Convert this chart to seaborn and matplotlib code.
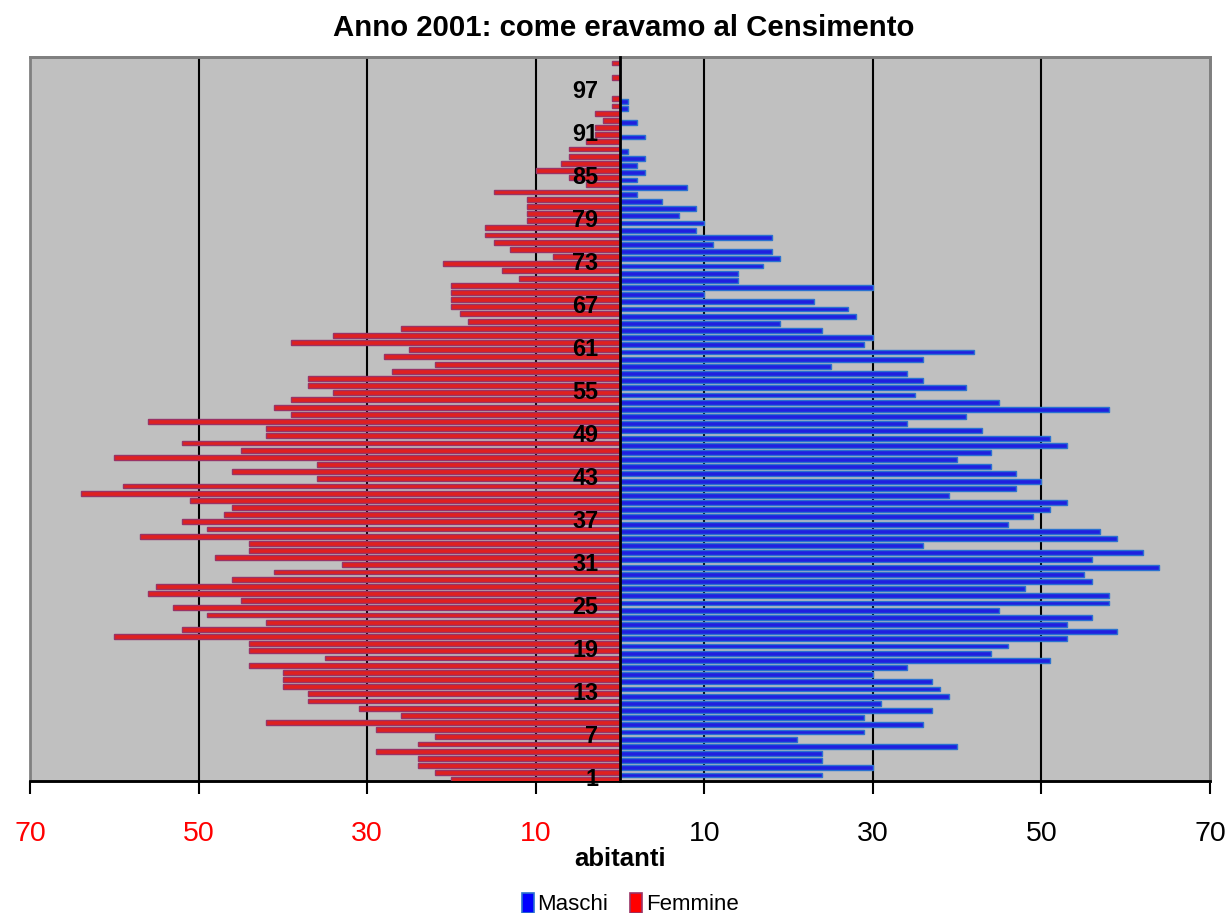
import matplotlib
matplotlib.use("Agg")
import matplotlib.pyplot as plt
from matplotlib.patches import Patch, Rectangle
import pandas as pd
import seaborn as sns

# Età (1..101) e abitanti per sesso, Censimento 2001
ages = list(range(1, 102))

maschi = [
    24, 30, 24, 24, 40, 21, 29, 36, 29, 37,   # 1-10
    31, 39, 38, 37, 30, 34, 51, 44, 46, 53,   # 11-20
    59, 53, 56, 45, 58, 58, 48, 56, 55, 64,   # 21-30
    56, 62, 36, 59, 57, 46, 49, 51, 53, 39,   # 31-40
    47, 50, 47, 44, 40, 44, 53, 51, 43, 34,   # 41-50
    41, 58, 45, 35, 41, 36, 34, 25, 36, 42,   # 51-60
    29, 30, 24, 19, 28, 27, 23, 10, 30, 14,   # 61-70
    14, 17, 19, 18, 11, 18, 9, 10, 7, 9,      # 71-80
    5, 2, 8, 2, 3, 2, 3, 1, 0, 3,             # 81-90
    0, 2, 0, 1, 1, 0, 0, 0, 0, 0,             # 91-100
    0,                                        # 101
]

femmine = [
    20, 22, 24, 24, 29, 24, 22, 29, 42, 26,   # 1-10
    31, 37, 37, 40, 40, 40, 44, 35, 44, 44,   # 11-20
    60, 52, 42, 49, 53, 45, 56, 55, 46, 41,   # 21-30
    33, 48, 44, 44, 57, 49, 52, 47, 46, 51,   # 31-40
    64, 59, 36, 46, 36, 60, 45, 52, 42, 42,   # 41-50
    56, 39, 41, 39, 34, 37, 37, 27, 22, 28,   # 51-60
    25, 39, 34, 26, 18, 19, 20, 20, 20, 20,   # 61-70
    12, 14, 21, 8, 13, 15, 16, 16, 11, 11,    # 71-80
    11, 11, 15, 4, 6, 10, 7, 6, 6, 4,         # 81-90
    3, 3, 2, 3, 1, 1, 0, 0, 1, 0,             # 91-100
    1,                                        # 101
]

series = ["Maschi", "Femmine"]
series_fill = {"Maschi": "#0000FF", "Femmine": "#FF0000"}
series_edge = {"Maschi": "#2A72D0", "Femmine": "#993366"}

x_ticks = [-70, -50, -30, -10, 10, 30, 50, 70]
x_tick_labels = ["70", "50", "30", "10", "10", "30", "50", "70"]
x_tick_colors = ["#FF0000"] * 4 + ["#000000"] * 4
age_ticks = list(range(1, 98, 6))

title = "Anno 2001: come eravamo al Censimento"
x_title = "abitanti"

sns.set_theme(style="white")
plt.rcParams["font.family"] = ["Liberation Sans", "DejaVu Sans"]
plt.rcParams.update({
    "text.color": "black", "axes.labelcolor": "black",
    "xtick.color": "black", "ytick.color": "black",
})

# Femmine plotted to the left of zero
df = pd.DataFrame({
    "eta": [str(a) for a in ages] * 2,
    "abitanti": maschi + [-v for v in femmine],
    "sesso": ["Maschi"] * len(ages) + ["Femmine"] * len(ages),
})
order = [str(a) for a in reversed(ages)]

W, H = 1228, 913
fig = plt.figure(figsize=(W / 100, H / 100), dpi=100)
fig.patch.set_facecolor("white")
ax = fig.add_axes([30 / W, 1 - 781 / H, 1180 / W, 724 / H])
ax.set_facecolor("#C0C0C0")

sns.barplot(
    data=df, y="eta", x="abitanti", hue="sesso",
    order=order, hue_order=series, palette=series_fill,
    orient="h", dodge=True, width=1.36, legend=False,
    linewidth=1.0, ax=ax, zorder=3,
)
for container, name in zip(ax.containers, series):
    for bar in container:
        bar.set_edgecolor(series_edge[name])

ax.set_xlim(-70, 70)
ax.set_ylim(len(ages) - 0.5, -0.5)

# category axis crosses at zero (position first: it resets the ticks)
ax.spines["left"].set_position(("data", 0))
ax.spines["left"].set_color("black")
ax.spines["left"].set_linewidth(2)
ax.spines["left"].set_zorder(4)
for side in ("top", "right"):
    ax.spines[side].set_color("#808080")
    ax.spines[side].set_linewidth(2)
ax.spines["bottom"].set_color("black")
ax.spines["bottom"].set_linewidth(2)
ax.add_patch(Rectangle((0, 0), 1, 1, transform=ax.transAxes, fill=False,
                       edgecolor="#808080", linewidth=2, zorder=0.5,
                       clip_on=False))

ax.set_ylabel("")
ax.set_yticks([order.index(str(a)) for a in age_ticks])
ax.set_yticklabels([str(a) for a in age_ticks], fontsize=16.8,
                   fontweight="bold", color="black")
ax.tick_params(axis="y", length=0, pad=15.5)

# value axis
ax.set_xticks(x_ticks)
ax.set_xticklabels(x_tick_labels, fontsize=20.5)
for lab, col in zip(ax.get_xticklabels(), x_tick_colors):
    lab.set_color(col)
ax.tick_params(axis="x", direction="out", length=9, width=1.5,
               color="black", pad=20, bottom=True)
ax.set_xlabel(x_title, fontsize=18.5, fontweight="bold", labelpad=0)

# vertical gridlines behind the bars (not at the frame edges)
ax.grid(axis="x", color="black", linewidth=1.5)
ax.grid(axis="y", visible=False)
for val, gl in zip(x_ticks, ax.xaxis.get_gridlines()):
    if abs(val) == 70:
        gl.set_visible(False)
ax.xaxis.set_zorder(1)
ax.yaxis.set_zorder(5)

fig.text(624 / W, 1 - 28 / H, title, ha="center", va="center",
         fontsize=21.2, fontweight="bold", color="black")

handles = [Patch(facecolor=series_fill[s], edgecolor=series_edge[s],
                 linewidth=1.2, label=s) for s in series]
fig.legend(handles=handles, loc="center", bbox_to_anchor=(630 / W, 1 - 904 / H),
           ncol=2, frameon=False, fontsize=16, handlelength=0.55,
           handleheight=1.0, handletextpad=0.15, columnspacing=1.0)

fig.savefig("out.png", dpi=100)
